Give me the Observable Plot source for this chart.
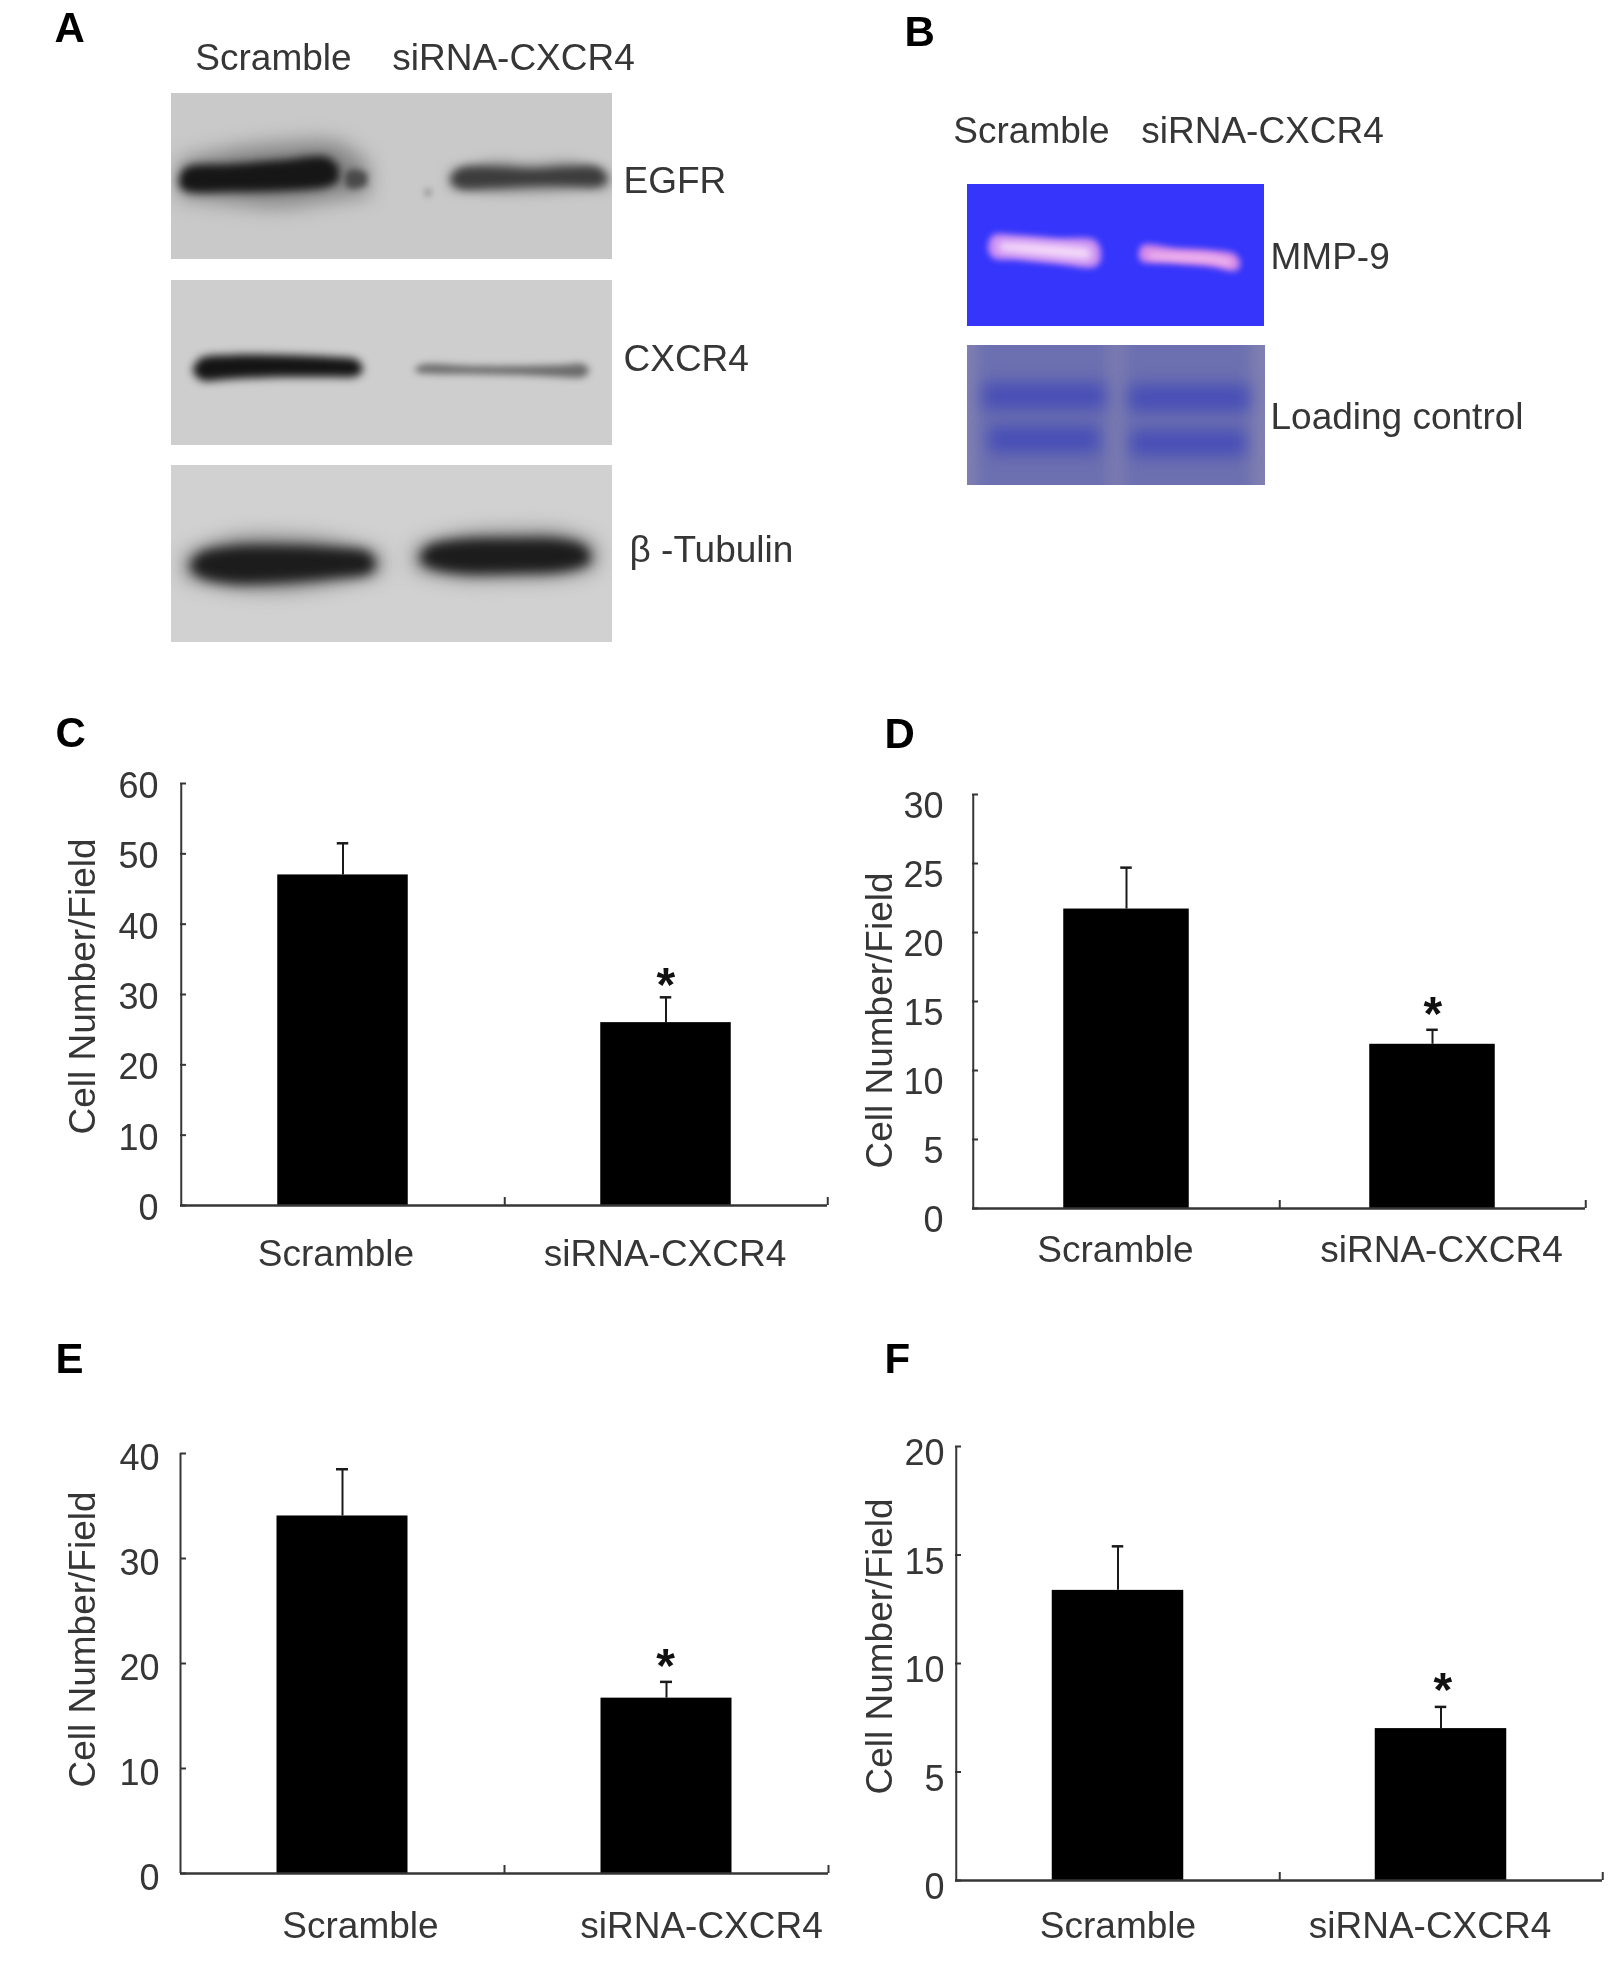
<!DOCTYPE html>
<html><head><meta charset="utf-8">
<script src="https://cdn.jsdelivr.net/npm/d3@7"></script>
<script src="https://cdn.jsdelivr.net/npm/@observablehq/plot@0.6"></script>
<style>
html,body{margin:0;background:#fff}
#page{position:relative;width:1617px;height:1983px;overflow:hidden;background:#fff}
#page svg{position:absolute;background:transparent;overflow:visible;filter:blur(.6px)}
</style></head><body><div id="page"></div>
<script>
const categories = ["Scramble", "siRNA-CXCR4"];
const yLabel = "Cell Number/Field";

const meansC = [47, 26],     topsC = [51.5, 29.6], ticksC = [0,10,20,30,40,50,60];
const meansD = [21.7, 11.9], topsD = [24.7, 12.95], ticksD = [0,5,10,15,20,25,30];
const meansE = [34.05, 16.7], topsE = [38.5, 18.25], ticksE = [0,10,20,30,40];
const meansF = [13.37, 7.0], topsF = [15.4, 8.0],  ticksF = [0,5,10,15,20];

// Bands on the gels in gel pixels
const egfrHalo = {x:[8,60,110,168,198], top:[68,56,50,50,72], bottom:[104,110,114,106,102]};
const egfrA = {x:[8,14,60,110,156,168], top:[86,75,71,67,64,74], bottom:[92,98,99,98,94,88]};
const egfrTail = {x:[174,182,196], top:[80,76,80], bottom:[92,96,92]};
const egfrHaloB = {x:[278,320,360,400,438], top:[78,68,70,68,78], bottom:[96,100,100,98,96]};
const egfrB = {x:[280,288,320,360,400,428,436], top:[85,76,74,76,74,75,85], bottom:[88,95,95,93,93,93,88]};
const egfrSpot = {x:[254,260], top:[96,96], bottom:[103,103]};
const cxcrA = {x:[22,30,60,110,160,186,192], top:[88,78,75,75,77,80,88], bottom:[92,100,99,97,97,96,90]};
const cxcrB = {x:[244,250,300,350,390,412,418], top:[89,85,86,86,85,84,89], bottom:[91,93,94,95,97,97,92]};
const tubHaloA = {x:[14,60,110,160,210], top:[90,74,72,76,88], bottom:[112,122,124,118,108]};
const tubHaloB = {x:[244,290,340,390,425], top:[82,70,67,68,80], bottom:[104,112,112,110,102]};
const tubA  = {x:[20,30,60,110,160,198,204], top:[98,88,82,81,83,88,98], bottom:[104,112,118,117,113,108,102]};
const tubB  = {x:[250,258,290,340,390,414,419], top:[90,81,75,74,75,82,92], bottom:[96,102,108,108,106,100,96]};
const mmpA  = {x:[21,26,50,90,128,134], top:[60,51,51,54,56,66], bottom:[66,74,76,80,83,76]};
const mmpCoreA = {x:[32,60,90,124], top:[58,59,61,64], bottom:[67,70,73,76]};
const mmpB  = {x:[172,176,210,245,268,273], top:[67,61,64,66,70,77], bottom:[75,78,80,83,87,83]};
const mmpCoreB = {x:[182,210,245,264], top:[69,70,72,76], bottom:[74,76,78,82]};
const loadRows = [
  {x:[16,138], top:[38,38], bottom:[64,64]}, {x:[162,282], top:[40,40], bottom:[66,66]},
  {x:[22,132], top:[81,81], bottom:[108,108]}, {x:[164,278], top:[85,85], bottom:[111,111]}
];
const loadLanes = {x1:[10,156], x2:[143,284]};

const FONT = "Liberation Sans, Arial, sans-serif";
const INK = "#363636";
const page = document.getElementById("page");

function place(svg, left, top) {
  svg.style.left = left + "px"; svg.style.top = top + "px";
  page.appendChild(svg);
}
function band(b, fill, blur) {
  return Plot.areaY(b.x, {x: b.x, y1: b.top, y2: b.bottom, fill, curve: "catmull-rom", imageFilter: `blur(${blur}px)`, clip: true});
}
function say(text, x, y, o = {}) {
  return Plot.text([text], {x: [x], y: [y], text: d => d, fontFamily: FONT, fontSize: 37, fill: INK, textAnchor: "start", lineAnchor: "middle", ...o});
}
function gel({left, top, ml, mt, w, h, bg, marks}) {
  place(Plot.plot({
    width: ml + w + 380, height: mt + h + 10,
    marginLeft: ml, marginTop: mt, marginRight: 380, marginBottom: 10,
    x: {domain: [0, w]}, y: {domain: [h, 0]}, axis: null,
    marks: [Plot.rect([0], {x1: 0, x2: w, y1: 0, y2: h, fill: bg}), ...marks]
  }), left, top);
}

// Panel A
gel({left: 0, top: 0, ml: 171, mt: 93, w: 441, h: 166, bg: "#c9c9c9", marks: [
  band(egfrHalo, "#858585", 10), band(egfrA, "#161616", 4.5), band(egfrTail, "#4a4a4a", 3),
  band(egfrHaloB, "#939393", 6), band(egfrB, "#3c3c3c", 4.5),
  band(egfrSpot, "#8f8f8f", 3),
  say("A", -117, -52, {fontWeight: "bold", fontSize: 42, fill: "#000", lineAnchor: "bottom"}),
  say(categories[0], 102, -35, {textAnchor: "middle"}),
  say(categories[1], 342, -35, {textAnchor: "middle"}),
  say("EGFR", 452, 88)
]});
gel({left: 0, top: 200, ml: 171, mt: 80, w: 441, h: 165, bg: "#cecece", marks: [
  band(cxcrA, "#141414", 4),
  band(cxcrB, "#6a6a6a", 3.5),
  say("CXCR4", 452, 79)
]});
gel({left: 0, top: 400, ml: 171, mt: 65, w: 441, h: 177, bg: "#d1d1d1", marks: [
  band(tubHaloA, "#7a7a7a", 10), band(tubA, "#1c1c1c", 6),
  band(tubHaloB, "#7a7a7a", 10), band(tubB, "#1c1c1c", 6),
  say("\u03B2 -Tubulin", 458, 85)
]});

// Panel B
gel({left: 800, top: 0, ml: 167, mt: 184, w: 297, h: 142, bg: "#3535fb", marks: [
  band(mmpA, "#c98cf2", 3), band(mmpCoreA, "#f8e0fa", 4),
  band(mmpB, "#d68ae8", 3), band(mmpCoreB, "#f2bcee", 3),
  say("B", -63, -139, {fontWeight: "bold", fontSize: 42, fill: "#000", lineAnchor: "bottom"}),
  say(categories[0], 64, -53, {textAnchor: "middle"}),
  say(categories[1], 295, -53, {textAnchor: "middle"}),
  say("MMP-9", 303, 73)
]});
gel({left: 800, top: 250, ml: 167, mt: 95, w: 298, h: 140, bg: "#8080b2", marks: [
  Plot.rect([0, 1], {x1: loadLanes.x1, x2: loadLanes.x2, y1: [-30, -30], y2: [170, 170], fill: "#6c6fb0", imageFilter: "blur(8px)", clip: true}),
  ...loadRows.map(r => band(r, "#474eb6", 8)),
  say("Loading control", 303, 72)
]});

// Bar panels
function bars({letter, means, tops, ticks, frame, barWidth, tickGap, tickDy, labelDx, labelY, yLabelAt, star, letterAt}) {
  const {left, right, top, bottom} = frame;
  const L = Math.min(left - 160, left - tickGap - 60), T = top - 110;
  const ml = left - L, mt = top - T, w = right - left, h = bottom - top;
  const step = w / 2;
  const at = (px, py) => ({dx: px - left, dy: py - top});
  const data = categories.map((c, i) => ({c, mean: means[i], top: tops[i]}));
  const cap = 6;
  place(Plot.plot({
    width: ml + w + 20, height: mt + h + 100,
    marginLeft: ml, marginRight: 20, marginTop: mt, marginBottom: 100,
    x: {type: "band", domain: categories, paddingInner: 0, paddingOuter: 0, label: null},
    y: {domain: [0, ticks[ticks.length - 1]], label: null},
    marks: [
      Plot.ruleX(data, {x: "c", y1: "mean", y2: "top", stroke: "#1a1a1a", strokeWidth: 2}),
      Plot.tickY(data, {x: "c", y: "top", stroke: "#1a1a1a", strokeWidth: 2.5,
        insetLeft: step / 2 - cap, insetRight: step / 2 - cap}),
      Plot.barY(data, {x: "c", y: "mean", fill: "#000",
        insetLeft: step / 2 - barWidth / 2, insetRight: step / 2 - barWidth / 2}),
      Plot.axisY({ticks, tickSize: 0, tickPadding: tickGap, dy: tickDy, fontSize: 36, fontFamily: FONT,
        color: INK, label: null, tickFormat: d => d}),
      Plot.ruleY(ticks, {stroke: INK, strokeWidth: 2, insetRight: w - 6}),
      Plot.axisX({ticks: [], label: null}),
      Plot.ruleX(categories, {x: d => d, dx: step / 2, stroke: INK, strokeWidth: 2, insetTop: h - 8}),
      Plot.ruleX([categories[0]], {x: d => d, dx: -step / 2, stroke: INK, strokeWidth: 2}),
      Plot.ruleY([0], {stroke: INK, strokeWidth: 2.5}),
      ...categories.map((c, i) => Plot.text([c], {x: d => d, text: d => d, frameAnchor: "top",
        dx: labelDx[i], dy: labelY - top, fontSize: 37, fontFamily: FONT, fill: INK, lineAnchor: "middle"})),
      Plot.text([yLabel], {text: d => d, frameAnchor: "top-left", ...at(yLabelAt[0], yLabelAt[1]),
        rotate: -90, fontSize: 37, fontFamily: FONT, fill: INK, textAnchor: "middle", lineAnchor: "middle"}),
      Plot.text(["*"], {x: () => categories[1], text: d => d, frameAnchor: "top",
        dx: star[0] - (left + 1.5 * step), dy: star[1] + 21 - top,
        fontSize: 48, fontWeight: "bold", fontFamily: FONT, fill: "#111", lineAnchor: "bottom"}),
      Plot.text([letter], {text: d => d, frameAnchor: "top-left", ...at(letterAt[0], letterAt[1]),
        fontSize: 42, fontWeight: "bold", fontFamily: FONT, fill: "#000", textAnchor: "start", lineAnchor: "bottom"})
    ]
  }), L, T);
}

bars({letter: "C", means: meansC, tops: topsC, ticks: ticksC,
  frame: {left: 180, right: 827, top: 783, bottom: 1205}, barWidth: 131, tickGap: 22, tickDy: 3,
  labelDx: [-7, -1], labelY: 1254, yLabelAt: [83, 986], star: [665, 979], letterAt: [55, 746]});
bars({letter: "D", means: meansD, tops: topsD, ticks: ticksD,
  frame: {left: 972, right: 1585, top: 794, bottom: 1208}, barWidth: 126, tickGap: 29, tickDy: 12,
  labelDx: [-11, 9], labelY: 1250, yLabelAt: [880, 1020], star: [1432, 1008], letterAt: [884, 747]});
bars({letter: "E", means: meansE, tops: topsE, ticks: ticksE,
  frame: {left: 180, right: 828, top: 1453, bottom: 1873}, barWidth: 131, tickGap: 21, tickDy: 4.5,
  labelDx: [18, 35], labelY: 1926, yLabelAt: [83, 1639], star: [665, 1660], letterAt: [55, 1372]});
bars({letter: "F", means: meansF, tops: topsF, ticks: ticksF,
  frame: {left: 955, right: 1602, top: 1446, bottom: 1880}, barWidth: 132, tickGap: 11, tickDy: 7,
  labelDx: [0, -11], labelY: 1926, yLabelAt: [880, 1646], star: [1442, 1684], letterAt: [884, 1372]});
</script></body></html>
